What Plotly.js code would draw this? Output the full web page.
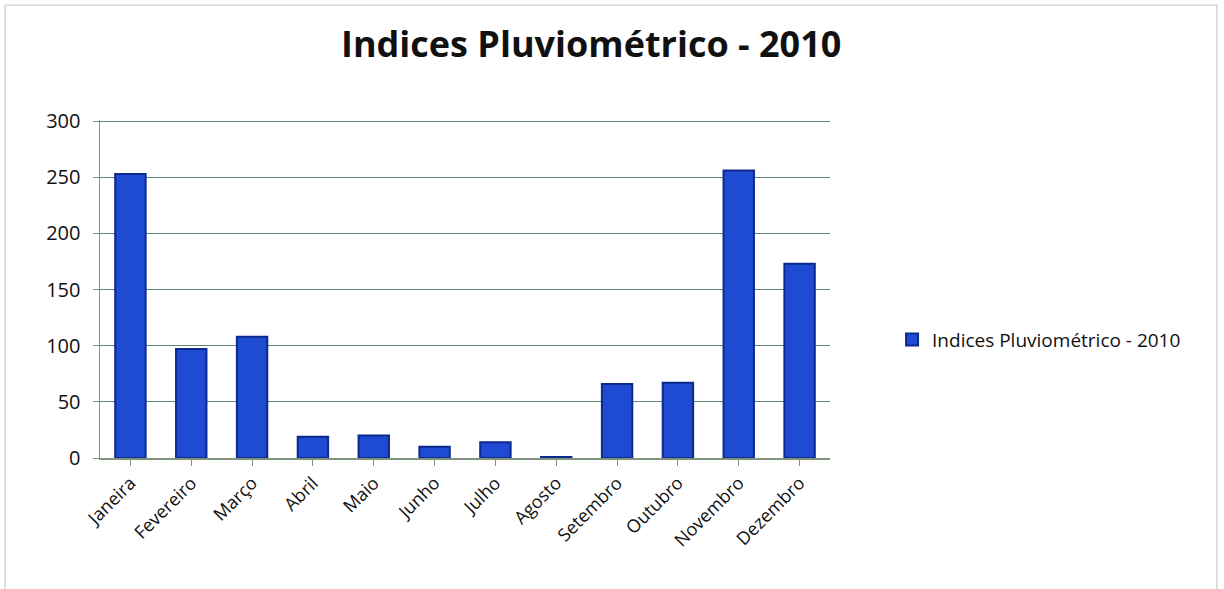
<!DOCTYPE html>
<html>
<head>
<meta charset="utf-8">
<script src="https://cdn.plot.ly/plotly-3.0.1.min.js"></script>
<style>html,body{margin:0;padding:0;background:#fff;}#chart{width:1224px;height:589px;}</style>
</head>
<body>
<div id="chart"></div>
<script>
const months = ["Janeira","Fevereiro","Março","Abril","Maio","Junho","Julho","Agosto","Setembro","Outubro","Novembro","Dezembro"];
const rainfall = [253, 97, 108, 19, 20, 10, 14, 1, 66, 67, 256, 173];
const seriesName = "Indices Pluviométrico - 2010";
const yTicks = [0, 50, 100, 150, 200, 250, 300];

const font = "Open Sans, Noto Sans, sans-serif";

const trace = {
  type: "bar",
  x: months,
  y: rainfall,
  name: seriesName,
  width: 0.5,
  marker: {color: "#1f4bd2", line: {color: "#0c2a8c", width: 2}},
  showlegend: true
};

const layout = {
  width: 1224,
  height: 589,
  paper_bgcolor: "#ffffff",
  plot_bgcolor: "#ffffff",
  margin: {l: 100, r: 394, t: 120, b: 131},
  title: {
    text: "<b>Indices Pluviométrico - 2010</b>",
    x: 0.483, xanchor: "center",
    y: 0.925, yanchor: "middle",
    font: {family: font, size: 36, color: "#111"}
  },
  xaxis: {
    type: "category",
    tickangle: -45,
    tickfont: {family: font, size: 18, color: "#111"},
    showline: true, linecolor: "#7f947f", linewidth: 1.5,
    ticks: "outside", ticklen: 6, tickcolor: "#7f947f",
    showgrid: false
  },
  yaxis: {
    range: [0, 301],
    tickvals: yTicks,
    tickfont: {family: font, size: 20, color: "#111"},
    showline: true, linecolor: "#7f947f", linewidth: 1.5,
    ticks: "outside", ticklen: 6, tickcolor: "#7f947f",
    ticklabelstandoff: 8,
    gridcolor: "#5f8a6c", gridwidth: 1,
    zeroline: false
  },
  legend: {
    x: 1.085, y: 0.35, xanchor: "left", yanchor: "middle",
    font: {family: font, size: 19, color: "#111"},
    bgcolor: "rgba(0,0,0,0)"
  },
  shapes: [
    {type: "rect", xref: "paper", yref: "paper", x0: -0.13, x1: 1.53, y0: -0.39, y1: 1.34,
     line: {color: "#bfbfbf", width: 1}}
  ]
};

Plotly.newPlot("chart", [trace], layout, {displayModeBar: false, staticPlot: true});
</script>
</body>
</html>
